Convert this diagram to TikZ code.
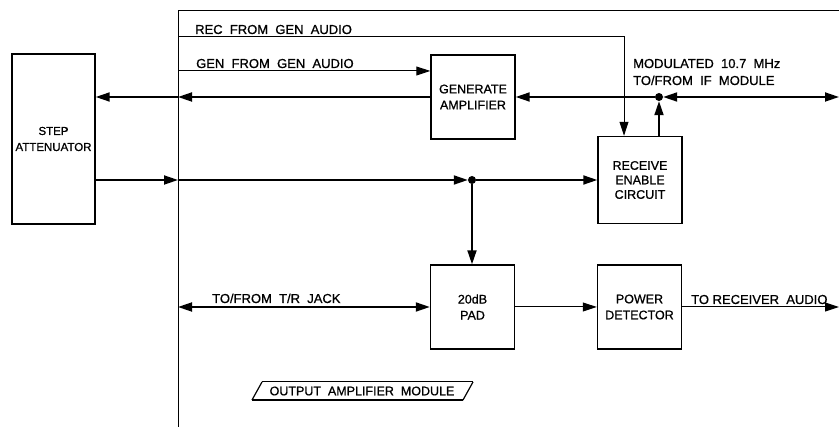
\documentclass[tikz,border=0pt]{standalone}
\usepackage{fontspec}
\setmainfont{Liberation Sans}[FakeBold=0.9]
\usetikzlibrary{arrows.meta}
\begin{document}
\begin{tikzpicture}[x=1pt,y=-1pt,
  blk/.style={draw, line width=1.4pt, minimum width=84pt, minimum height=84pt, inner sep=0pt, align=center, font=\fontsize{12.5}{16}\selectfont},
  lbl/.style={anchor=base west, inner sep=0pt, font=\fontsize{13}{17}\selectfont},
  sig/.style={line width=1.8pt},
  thn/.style={line width=1pt},
  arr/.style={-{Triangle[length=14pt,width=9pt]}},
  barr/.style={{Triangle[length=14pt,width=9pt]}-{Triangle[length=14pt,width=9pt]}},
  jdot/.style={circle, fill, inner sep=0pt, minimum size=8pt}]
\useasboundingbox (0,0) rectangle (839,427);
% module boundary
\coordinate (m0) at (178,427);
\coordinate (m1) at (178,11);
\coordinate (m2) at (839,11);
\draw[thn] (m0) -- (m1) -- (m2);
% blocks
\node[blk, minimum width=83pt, minimum height=170pt, font=\fontsize{11.5}{16}\selectfont] (sa) at (53.5,139) {STEP\\ATTENUATOR};
\node[blk] (ga) at (473,97) {GENERATE\\AMPLIFIER};
\node[blk, minimum height=87pt, font=\fontsize{12.5}{14.5}\selectfont] (re) at (640,180) {RECEIVE\\ENABLE\\CIRCUIT};
\node[blk] (pad) at (472.5,307) {20dB\\PAD};
\node[blk] (pd) at (639.5,307) {POWER\\DETECTOR};
% junctions and coordinates
\node[jdot] (d1) at (659,97) {};
\node[jdot] (d2) at (472,180) {};
\coordinate (b97) at (178,97);
\coordinate (e97) at (839,97);
\coordinate (b180) at (178,180);
\coordinate (b307) at (178,307);
\coordinate (e307) at (839,307);
\coordinate (r0) at (178,37);
\coordinate (r1) at (624,37);
\coordinate (g0) at (178,71);
% REC line
\draw[thn,arr] (r0) -- (r1) -- (r1 |- re.north);
% GEN line
\draw[thn,arr] (g0) -- (g0 -| ga.west);
% 10.7 MHz line
\draw[sig,barr] (d1) -- (e97);
\draw[sig,arr] (d1) -- (ga.east);
\draw[sig,arr] (ga.west) -- (b97);
\draw[sig,arr] (b97) -- (sa.east |- b97);
\draw[sig,arr] (re.north -| d1) -- (d1);
% step attenuator output line
\draw[sig,arr] (sa.east |- b180) -- (b180);
\draw[sig,arr] (b180) -- (d2);
\draw[sig,arr] (d2) -- (re.west);
\draw[sig,arr] (d2) -- (d2 |- pad.north);
% bottom line
\draw[sig,barr] (b307) -- (pad.west);
\draw[thn,arr] (pad.east) -- (pd.west);
\draw[thn,arr] (pd.east) -- (e307);
% labels
\node[lbl] (t1) at (195,34) {REC\ \ FROM\ \ GEN\ \ AUDIO};
\node[lbl] (t2) at (196,68) {GEN\ \ FROM\ \ GEN\ \ AUDIO};
\node[lbl] (t3) at (633,68) {MODULATED\ \ 10.7\ \ MHz};
\node[lbl] (t4) at (633,85) {TO/FROM\ \ IF\ \ MODULE};
\node[lbl] (t5) at (212,303) {TO/FROM\ \ T/R\ \ JACK};
\node[lbl] (t6) at (691,304) {TO RECEIVER\ \ AUDIO};
\node[inner sep=0pt, font=\fontsize{12.5}{15}\selectfont] (oam) at (362,391) {OUTPUT\ \ AMPLIFIER\ \ MODULE};
\coordinate (p1) at (252,400);
\coordinate (p2) at (262,382);
\coordinate (p3) at (473,382);
\coordinate (p4) at (463,400);
\draw[line width=1pt] (p2) -- (p3);
\draw[line width=1.6pt] (p4) -- (p1);
\draw[line width=1.2pt] (p1) -- (p2) (p3) -- (p4);
\end{tikzpicture}
\end{document}
